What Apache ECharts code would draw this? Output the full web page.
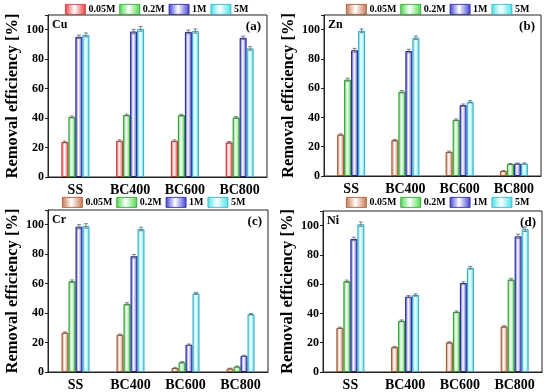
<!DOCTYPE html>
<html><head><meta charset="utf-8">
<script src="https://cdn.jsdelivr.net/npm/echarts@6/dist/echarts.min.js"></script>
<style>html,body{margin:0;padding:0;background:#fff}#c{width:550px;height:392px}</style>
</head><body><div id="c"></div>
<script>
const categories = ['SS', 'BC400', 'BC600', 'BC800'];
const seriesNames = ['0.05M', '0.2M', '1M', '5M'];
const metals = ['Cu', 'Zn', 'Cr', 'Ni'];
const panelTags = ['(a)', '(b)', '(c)', '(d)'];
const yTicks = [0, 20, 40, 60, 80, 100];

// values [%] per panel, per concentration, per category
const cu_005 = [23.8, 24.6, 24.6, 23.5];
const cu_02  = [40.8, 42.1, 42.0, 40.4];
const cu_1   = [95.2, 98.8, 98.5, 94.5];
const cu_5   = [96.5, 100.6, 99.1, 87.3];
const zn_005 = [28.3, 24.5, 16.5, 3.4];
const zn_02  = [65.8, 57.6, 38.4, 8.2];
const zn_1   = [85.9, 85.4, 48.4, 8.5];
const zn_5   = [99.2, 94.5, 50.7, 8.5];
const cr_005 = [26.7, 25.3, 2.7, 2.3];
const cr_02  = [61.6, 46.3, 6.6, 3.7];
const cr_1   = [98.7, 78.6, 18.5, 11.0];
const cr_5   = [99.2, 97.1, 53.4, 39.3];
const ni_005 = [30.2, 17.0, 20.2, 31.1];
const ni_02  = [62.0, 35.0, 41.1, 63.2];
const ni_1   = [90.9, 51.5, 60.8, 92.7];
const ni_5   = [101.0, 52.6, 71.2, 97.6];
// error bars (+/-)
const cu_err = [[0.6,0.6,0.6,0.6],[0.6,0.6,0.6,0.6],[1.2,1.5,1.3,1.2],[1.3,1.6,1.4,1.2]];
const zn_err = [[0.5,0.5,0.5,0.4],[1.0,0.8,0.6,0.4],[1.3,1.2,0.8,0.4],[1.3,1.2,0.8,0.4]];
const cr_err = [[0.5,0.5,0.4,0.3],[0.9,0.8,0.4,0.3],[1.5,1.2,0.5,0.4],[1.5,1.2,0.7,0.5]];
const ni_err = [[0.5,0.5,0.5,0.5],[0.8,0.6,0.6,0.8],[1.2,0.8,0.8,1.4],[1.5,0.8,0.9,1.6]];

const panelData = [[cu_005, cu_02, cu_1, cu_5],[zn_005, zn_02, zn_1, zn_5],[cr_005, cr_02, cr_1, cr_5],[ni_005, ni_02, ni_1, ni_5]];
const panelErr = [cu_err, zn_err, cr_err, ni_err];

const FONT = "'Liberation Serif','Times New Roman',serif";
const grids = [
  {left: 48, top: 15, width: 219, height: 162},
  {left: 324, top: 15, width: 217, height: 161},
  {left: 48, top: 210, width: 220, height: 162},
  {left: 323, top: 211, width: 219, height: 162}
];
const legendPos = [{left: 65, top: 4}, {left: 346, top: 4}, {left: 62, top: 197}, {left: 346, top: 197}];

function grad(c) {
  return {type: 'linear', x: 0, y: 0, x2: 1, y2: 0,
    colorStops: [{offset: 0, color: c}, {offset: 0.45, color: '#ffffff'}, {offset: 1, color: c}]};
}
const colRed = {fill: '#f03c3c', border: '#c83232'};
const colBrown = {fill: '#c87850', border: '#a0522d'};
const colGreen = {fill: '#4cd84c', border: '#2a9a2a'};
const colBlue = {fill: '#4040d8', border: '#22228a'};
const colCyan = {fill: '#44e4e4', border: '#3aa6c8'};
const panelColors = [
  [colRed, colGreen, colBlue, colCyan],
  [colBrown, colGreen, colBlue, colCyan],
  [colBrown, colGreen, colBlue, colCyan],
  [colBrown, colGreen, colBlue, colCyan]
];

const BAR_W = 7;
const series = [];
const xAxes = [], yAxes = [], legends = [], graphics = [];
for (let p = 0; p < 4; p++) {
  xAxes.push({type: 'category', gridIndex: p, data: categories,
    axisLine: {lineStyle: {color: '#222', width: 1}},
    axisTick: {alignWithLabel: true, length: 3, lineStyle: {color: '#222'}},
    axisLabel: {interval: 0, fontFamily: FONT, fontWeight: 'bold', fontSize: 14, color: '#000', margin: 6}});
  yAxes.push({type: 'value', gridIndex: p, min: 0, max: 110, interval: 20,
    name: 'Removal efficiency [%]', nameLocation: 'middle', nameGap: 27,
    nameTextStyle: {fontFamily: FONT, fontWeight: 'bold', fontSize: 16.5, color: '#000'},
    axisLine: {show: true, lineStyle: {color: '#222', width: 1}},
    axisTick: {show: true, length: 3, lineStyle: {color: '#222'}},
    splitLine: {show: false},
    axisLabel: {fontFamily: FONT, fontWeight: 'bold', fontSize: 12, color: '#000', margin: 4,
      formatter: v => (yTicks.indexOf(v) >= 0 ? String(v) : '')}});
  legends.push({show: true, left: legendPos[p].left, top: legendPos[p].top, orient: 'horizontal',
    itemWidth: 20, itemHeight: 10, itemGap: 4, selectedMode: false, padding: 0,
    textStyle: {fontFamily: FONT, fontWeight: 'bold', fontSize: 10, color: '#000', padding: [0, 0, 0, -2]},
    data: seriesNames.map((n, i) => ({name: n, icon: 'rect',
      itemStyle: {color: grad(panelColors[p][i].fill), borderColor: panelColors[p][i].border, borderWidth: 0.8}}))});
  for (let i = 0; i < 4; i++) {
    const col = panelColors[p][i];
    series.push({type: 'bar', name: seriesNames[i], xAxisIndex: p, yAxisIndex: p,
      data: panelData[p][i], barWidth: BAR_W, barGap: '0%',
      itemStyle: {color: grad(col.fill), borderColor: col.border, borderWidth: 1}, z: 2});
  }
  const errData = [];
  for (let i = 0; i < 4; i++) for (let c = 0; c < 4; c++) errData.push([c, panelData[p][i][c], panelErr[p][i][c], i]);
  series.push({type: 'custom', xAxisIndex: p, yAxisIndex: p, data: errData, z: 5, silent: true,
    renderItem: function (params, api) {
      const ci = api.value(0), v = api.value(1), e = api.value(2), si = api.value(3);
      const off = (si - 1.5) * BAR_W;
      const top = api.coord([ci, v + e]);
      const bot = api.coord([ci, v - e]);
      const x = top[0] + off;
      const st = {stroke: '#666', lineWidth: 0.8};
      return {type: 'group', children: [
        {type: 'line', shape: {x1: x, y1: top[1], x2: x, y2: bot[1]}, style: st},
        {type: 'line', shape: {x1: x - 2, y1: top[1], x2: x + 2, y2: top[1]}, style: st},
        {type: 'line', shape: {x1: x - 2, y1: bot[1], x2: x + 2, y2: bot[1]}, style: st}
      ]};
    }});
  const g = grids[p];
  graphics.push({type: 'text', left: g.left + 4, top: g.top + 4, z: 10,
    style: {text: metals[p], font: 'bold 12px ' + FONT, fill: '#000'}});
  graphics.push({type: 'text', right: 550 - (g.left + g.width) + 6, top: g.top + 5, z: 10,
    style: {text: panelTags[p], font: 'bold 13px ' + FONT, fill: '#000'}});
}

const chart = echarts.init(document.getElementById('c'), null, {renderer: 'canvas'});
chart.setOption({
  animation: false,
  backgroundColor: '#fff',
  grid: grids.map(g => Object.assign({show: true, borderColor: '#222', borderWidth: 1, backgroundColor: 'transparent'}, g)),
  xAxis: xAxes, yAxis: yAxes, legend: legends, series: series, graphic: graphics
});
</script></body></html>
